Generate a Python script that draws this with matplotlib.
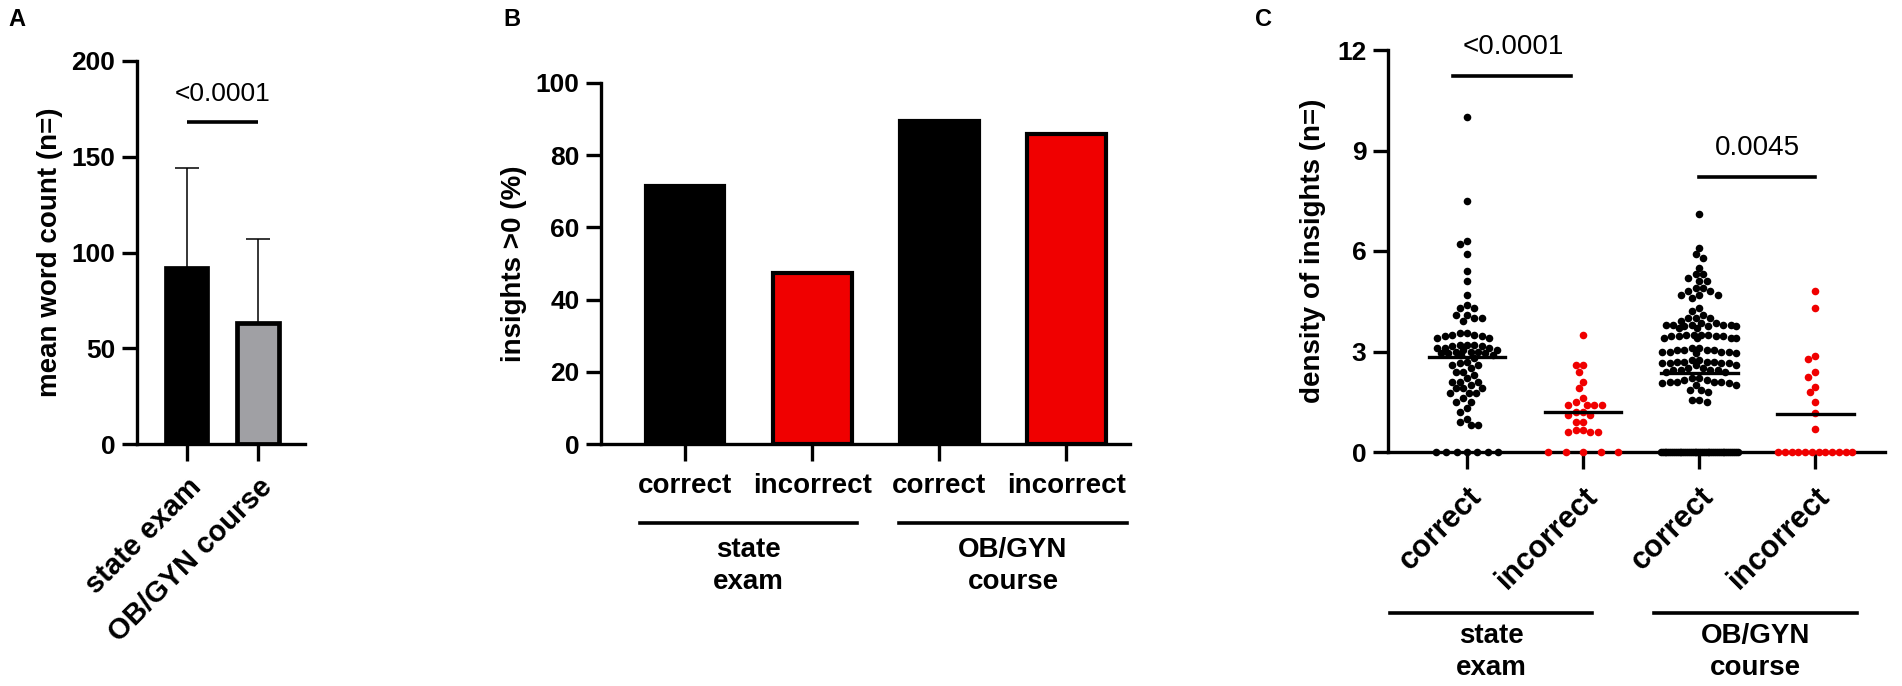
import numpy as np
import matplotlib
matplotlib.use("Agg")
import matplotlib.pyplot as plt

plt.rcParams['font.family'] = ['Liberation Sans', 'DejaVu Sans']

# --------------------------
# data
# --------------------------
# panel A
a_groups = ["state exam", "OB/GYN course"]
a_means = [92, 63]
a_sd = [52, 44]
a_pval = "<0.0001"

# panel B
b_ticks = ["correct", "incorrect", "correct", "incorrect"]
b_values = [71.5, 47.5, 89.5, 86.0]
b_groups = ["state\nexam", "OB/GYN\ncourse"]

# panel C (density of insights per answer)
c_ticks = ["correct", "incorrect", "correct", "incorrect"]
c_groups = ["state\nexam", "OB/GYN\ncourse"]
state_correct = [10.0, 7.5, 6.3, 6.2, 5.9, 5.4, 5.1, 4.7, 4.4, 4.3, 4.3, 4.1, 4.1, 4.0, 4.0, 3.9,
                 3.55, 3.5, 3.45, 3.4, 3.4, 3.45, 3.5, 3.55,
                 3.2, 3.15, 3.1, 3.1, 3.15, 3.2, 3.1, 3.2,
                 3.05, 3.0, 2.95, 2.95, 2.9, 2.9, 2.95, 3.0, 3.0, 3.05,
                 2.8, 2.7, 2.65, 2.6, 2.6, 2.5, 2.4, 2.4, 2.3, 2.2,
                 2.1, 2.1, 2.1, 2.0, 1.9, 1.9, 1.9, 1.75, 1.75, 1.75, 1.6, 1.5, 1.5, 1.3, 1.2,
                 1.0, 0.9, 0.8, 0.8,
                 0, 0, 0, 0, 0, 0, 0]
state_incorrect = [3.5, 2.6, 2.6, 2.4, 2.1, 1.9, 1.6, 1.5, 1.4, 1.4, 1.4, 1.4, 1.2, 1.2,
                   1.1, 1.1, 0.9, 0.9, 0.65, 0.65, 0.6, 0.6, 0.6,
                   0, 0, 0, 0, 0]
course_correct = [7.1, 6.1, 5.9, 5.8, 5.5, 5.3, 5.3, 5.2, 5.1, 5.1, 4.9, 4.9, 4.8, 4.8, 4.7,
                  4.7, 4.7, 4.6, 4.3, 4.2, 4.1, 4.0, 4.0, 4.0, 3.9,
                  3.85, 3.8, 3.8, 3.75, 3.7, 3.7, 3.75, 3.8, 3.8, 3.85, 3.75, 3.8,
                  3.5, 3.5, 3.45, 3.45, 3.4, 3.4, 3.4, 3.45, 3.45, 3.5, 3.5, 3.4,
                  3.1, 3.05, 3.05, 3.0, 3.0, 2.95, 2.95, 3.0, 3.0, 3.05, 3.05, 3.1,
                  2.75, 2.7, 2.7, 2.65, 2.65, 2.6, 2.6, 2.65, 2.65, 2.7, 2.7, 2.75,
                  2.5, 2.45, 2.45, 2.4, 2.4, 2.45, 2.45, 2.5,
                  2.2, 2.15, 2.1, 2.1, 2.05, 2.0, 2.0, 2.05, 2.1, 2.1, 2.15, 2.2,
                  1.85, 1.85, 1.8, 1.55, 1.55, 1.5] + [0] * 42
course_incorrect = [4.8, 4.3, 2.88, 2.78, 2.38, 2.25, 1.95, 1.78, 1.48, 1.15, 0.68] + [0] * 12
c_data = [state_correct, state_incorrect, course_correct, course_incorrect]
c_colors = ["black", "#f00000", "black", "#f00000"]
c_pvals = ["<0.0001", "0.0045"]

W, H = 1902, 686
fig = plt.figure(figsize=(W / 100, H / 100), dpi=100)
LW = 2.4


def box(x0, x1, ytop, ybot):
    # axes rectangle from pixel coordinates
    return fig.add_axes([x0 / W, 1 - ybot / H, (x1 - x0) / W, (ybot - ytop) / H])


def style(ax):
    for s in ["top", "right"]:
        ax.spines[s].set_visible(False)
    for s in ["left", "bottom"]:
        ax.spines[s].set_linewidth(LW)
    ax.tick_params(axis="y", width=LW, length=10.5, labelsize=19, pad=5)
    ax.tick_params(axis="x", width=LW, length=12, pad=9)
    for lab in ax.get_yticklabels():
        lab.set_fontweight("bold")


# --------------------------
# Panel A
# --------------------------
axA = box(137, 305, 61, 444)
xa = np.arange(len(a_groups))
axA.bar(xa, a_means, width=0.58, color=["black", "#a0a0a4"], edgecolor="black", linewidth=3.4)
axA.errorbar(xa, a_means, yerr=[[0, 0], a_sd], fmt="none", ecolor="black", elinewidth=1.1,
             capsize=8.5, capthick=1.1, zorder=0)
axA.set_xlim(-0.7, 1.66)
axA.set_ylim(0, 200)
axA.set_yticks([0, 50, 100, 150, 200])
style(axA)
axA.set_xticks(xa)
axA.set_xticklabels(a_groups, rotation=45, ha="right", va="top", rotation_mode="anchor",
                    fontweight="bold", fontsize=21)
axA.set_ylabel("mean word count (n=)", fontsize=20, fontweight="bold", labelpad=6)
axA.plot([0, 1], [168, 168], color="black", lw=2.6, solid_capstyle="butt")
axA.text(0.5, 183, a_pval, ha="center", va="center", fontsize=19)

# --------------------------
# Panel B
# --------------------------
axB = box(601, 1130, 83, 444)
xb = np.arange(len(b_values))
axB.bar(xb, b_values, width=0.62, color=["black", "#f00000", "black", "#f00000"],
        edgecolor="black", linewidth=3.0)
axB.set_xlim(-0.66, 3.5)
axB.set_ylim(0, 100)
axB.set_yticks(range(0, 101, 20))
style(axB)
axB.set_xticks(xb)
axB.set_xticklabels(b_ticks, fontweight="bold", fontsize=20)
axB.set_ylabel("insights >0 (%)", fontsize=20, fontweight="bold", labelpad=6)
for (x0, x1), lab in zip([(-0.35, 1.35), (1.68, 3.48)], b_groups):
    axB.plot([x0, x1], [-0.219, -0.219], color="black", lw=2.6, clip_on=False,
             transform=axB.get_xaxis_transform())
    axB.text((x0 + x1) / 2, -0.338, lab, ha="center", va="center", fontsize=20,
             fontweight="bold", linespacing=1.3, transform=axB.get_xaxis_transform())

# --------------------------
# Panel C
# --------------------------
axC = box(1388, 1885, 50, 452)
axC.set_xlim(-0.68, 3.6)
axC.set_ylim(0, 12)
axC.set_yticks([0, 3, 6, 9, 12])
style(axC)
fig.canvas.draw()

# swarm layout in pixel space
dot = 7.4
px_x = axC.transData.transform([(1, 0)])[0][0] - axC.transData.transform([(0, 0)])[0][0]
px_y = axC.transData.transform([(0, 1)])[0][1] - axC.transData.transform([(0, 0)])[0][1]
half_w = [0.27, 0.30, 0.33, 0.32]
for i, vals in enumerate(c_data):
    vals = np.sort(np.array(vals, dtype=float))
    zeros = vals[vals == 0]
    rest = vals[vals > 0][::-1]
    xs, ys = [], []
    if len(zeros):
        xs += list(i + np.linspace(-half_w[i], half_w[i], len(zeros)))
        ys += list(zeros)
    placed = [((x - i) * px_x, 0.0) for x in xs]
    wmax = half_w[i] * px_x
    cands = [0.0]
    k = 1
    while k * dot / 4 <= wmax:
        cands += [-k * dot / 4, k * dot / 4]
        k += 1
    for v in rest:
        yp = v * px_y
        best, best_d = None, -1
        for c in cands:
            d = min([np.hypot(c - px, yp - py) for px, py in placed] or [99])
            if d >= dot * 0.98:
                best = c
                break
            if d > best_d:
                best, best_d = c, d
        placed.append((best, yp))
        xs.append(i + best / px_x)
        ys.append(v)
    axC.scatter(xs, ys, s=30, color=c_colors[i], linewidths=0, zorder=3, clip_on=False)
    m = np.mean(vals)
    axC.plot([i - 0.33, i + 0.33], [m, m], color="black", lw=2.4, zorder=4)

axC.set_xticks(range(4))
axC.set_xticklabels(c_ticks, rotation=45, ha="right", va="top", rotation_mode="anchor",
                    fontweight="bold", fontsize=22)
axC.set_ylabel("density of insights (n=)", fontsize=20, fontweight="bold", labelpad=8)
axC.plot([-0.12, 0.9], [11.22, 11.22], color="black", lw=2.6)
axC.text(0.4, 12.1, c_pvals[0], ha="center", va="center", fontsize=20, clip_on=False)
axC.plot([2, 3], [8.2, 8.2], color="black", lw=2.6)
axC.text(2.5, 9.07, c_pvals[1], ha="center", va="center", fontsize=20)
for (x0, x1), lab in zip([(-0.66, 1.08), (1.61, 3.36)], c_groups):
    axC.plot([x0, x1], [-0.40, -0.40], color="black", lw=2.6, clip_on=False,
             transform=axC.get_xaxis_transform())
    axC.text((x0 + x1) / 2, -0.4975, lab, ha="center", va="center", fontsize=20,
             fontweight="bold", linespacing=1.3, transform=axC.get_xaxis_transform())

# panel letters
fig.text(17 / W, 1 - 20 / H, "A", fontsize=17, fontweight="bold", ha="center", va="center")
fig.text(512 / W, 1 - 20 / H, "B", fontsize=17, fontweight="bold", ha="center", va="center")
fig.text(1263 / W, 1 - 20 / H, "C", fontsize=17, fontweight="bold", ha="center", va="center")

fig.savefig("out.png", dpi=100)
